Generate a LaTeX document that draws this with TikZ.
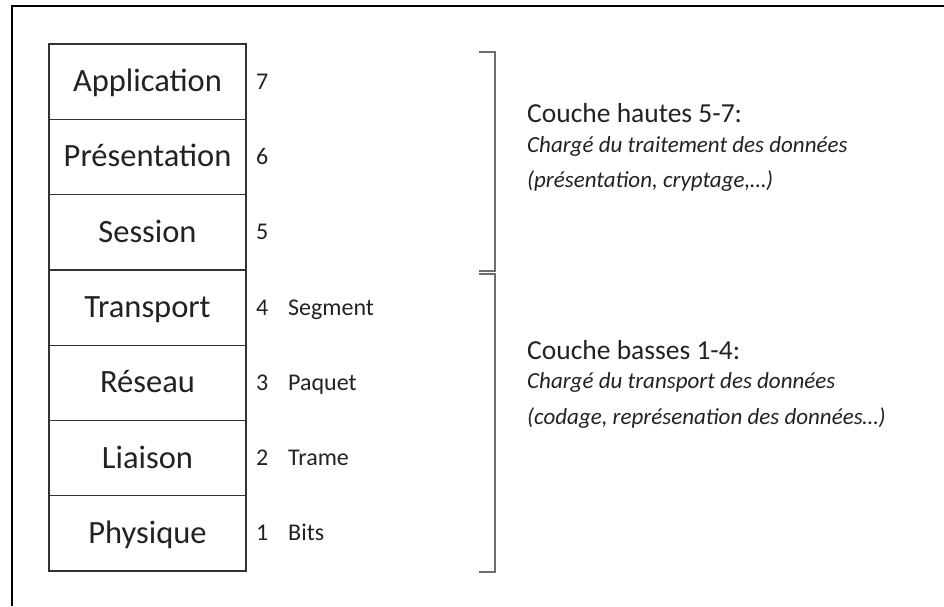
\documentclass[tikz,border=0pt]{standalone}
\usepackage{fontspec}
\setmainfont{Carlito}
\definecolor{ink}{HTML}{222222}
\definecolor{boxline}{HTML}{333333}
\definecolor{bracketline}{HTML}{6E6E6E}
\begin{document}
\begin{tikzpicture}[x=1pt,y=-1pt,
  frame/.style={draw=black, line width=2pt},
  layerbox/.style={draw=boxline, line width=1.3pt, minimum width=197pt,
    minimum height=75.3pt, inner sep=0pt, outer sep=0pt,
    text height=22pt, text depth=2pt, font=\fontsize{32.5}{38}\selectfont, text=ink},
  layernum/.style={anchor=base west, inner sep=0pt, font=\fontsize{24}{28}\selectfont, text=ink},
  heading/.style={anchor=base west, inner sep=0pt, font=\fontsize{27.5}{32}\selectfont, text=ink},
  detail/.style={anchor=base west, inner sep=0pt, font=\fontsize{23}{27}\selectfont\itshape, text=ink},
  bracket/.style={draw=bracketline, line width=1.8pt}
]
\useasboundingbox (0,0) rectangle (944,606);

% open frame: only the left and top edges show
\draw[frame] (12,606) -- (12,6) -- (944,6);

% the seven layers, top to bottom
\foreach \i/\nm/\num/\unit in {1/Application/7/, 2/Présentation/6/, 3/Session/5/,
    4/Transport/4/Segment, 5/Réseau/3/Paquet, 6/Liaison/2/Trame, 7/Physique/1/Bits} {
  \node[layerbox] (layer\i) at (147.5, {44+75.3*(\i-0.5)}) {\nm};
  \node[layernum] (num\i) at (256, {44+75.3*(\i-0.5)+7.5}) {\num};
  \node[layernum] (unit\i) at (288, {44+75.3*(\i-0.5)+7.5}) {\unit};
}

% brackets grouping the upper and lower layers
\draw[bracket] (479,52) -- (495,52) -- (495,271) -- (479,271);
\draw[bracket] (479,274) -- (495,274) -- (495,572) -- (479,572);

% upper layers description
\node[heading] (hautes) at (527,122) {Couche hautes 5-7:};
\node[detail] (hautesA) at (527,152) {Chargé du traitement des données};
\node[detail] (hautesB) at (527,187) {(présentation, cryptage,…)};

% lower layers description
\node[heading] (basses) at (527,359) {Couche basses 1-4:};
\node[detail] (bassesA) at (527,388) {Chargé du transport des données};
\node[detail] (bassesB) at (527,424) {(codage, représenation des données…)};
\end{tikzpicture}
\end{document}
